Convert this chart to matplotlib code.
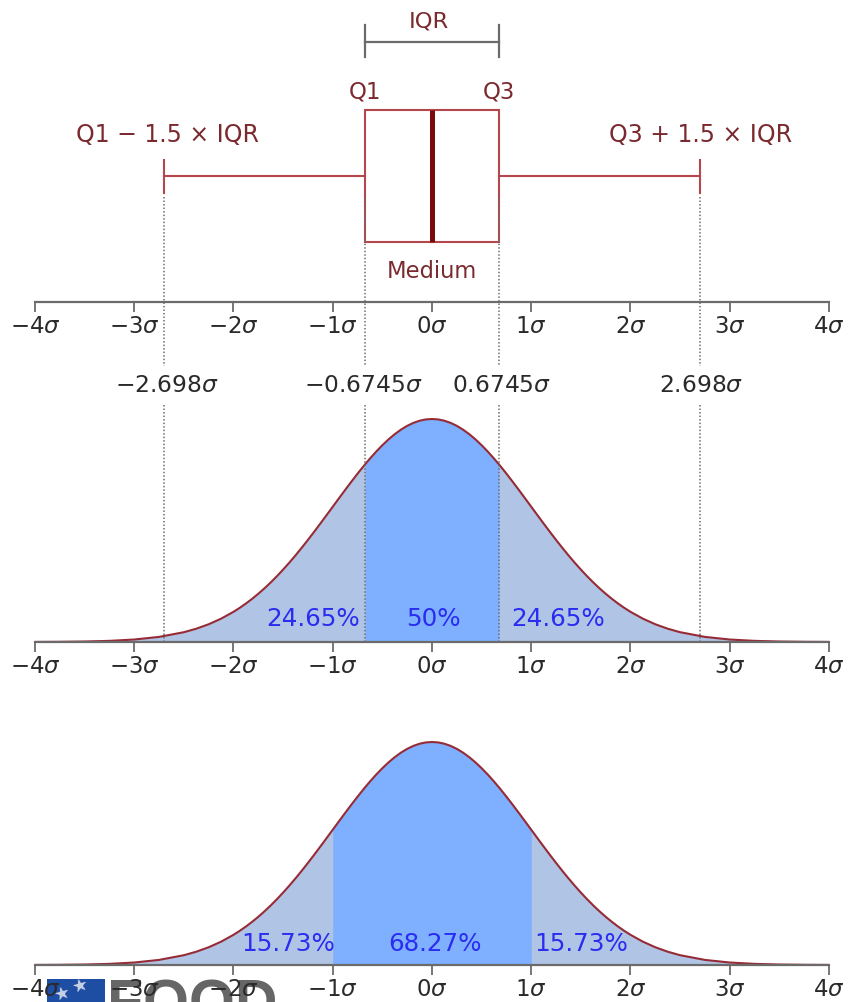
import matplotlib
matplotlib.use("Agg")
import matplotlib.pyplot as plt
from matplotlib.patches import Rectangle

W, H = 850, 1002
plt.rcParams['font.family'] = ['DejaVu Sans']
plt.rcParams['mathtext.fontset'] = 'dejavusans'

# Values
sigma_ticks = [-4, -3, -2, -1, 0, 1, 2, 3, 4]
tick_labels = ['\u22124$\\sigma$', '\u22123$\\sigma$', '\u22122$\\sigma$', '\u22121$\\sigma$', '0$\\sigma$',
               '1$\\sigma$', '2$\\sigma$', '3$\\sigma$', '4$\\sigma$']
q1, median, q3 = -0.6745, 0.0, 0.6745
low_whisker, high_whisker = -2.698, 2.698
curve_x = [-4, -3.75, -3.5, -3.25, -3, -2.75, -2.5, -2.375, -2.25, -2.125, -2,
           -1.9375, -1.875, -1.8125, -1.75, -1.6875, -1.625, -1.5625, -1.5, -1.4375, -1.375, -1.3125,
           -1.25, -1.1875, -1.125, -1.0625, -1, -0.9375, -0.875, -0.8125, -0.75, -0.6875, -0.6745, -0.625,
           -0.5625, -0.5, -0.4375, -0.375, -0.3125, -0.25, -0.1875, -0.125, -0.0625, 0,
           0.0625, 0.125, 0.1875, 0.25, 0.3125, 0.375, 0.4375, 0.5, 0.5625,
           0.625, 0.6745, 0.6875, 0.75, 0.8125, 0.875, 0.9375, 1, 1.0625, 1.125, 1.1875, 1.25,
           1.3125, 1.375, 1.4375, 1.5, 1.5625, 1.625, 1.6875, 1.75, 1.8125, 1.875, 1.9375,
           2, 2.125, 2.25, 2.375, 2.5, 2.75, 3, 3.25, 3.5, 3.75, 4]
curve_y = [0.00013, 0.00035, 0.00087, 0.00203, 0.00443, 0.00909, 0.01753, 0.02377, 0.03174, 0.04173, 0.05399,
           0.06105, 0.06879, 0.07718, 0.08628, 0.09606, 0.10654, 0.11769, 0.12952, 0.14197, 0.15501, 0.16859,
           0.18265, 0.19711, 0.21188, 0.22687, 0.24197, 0.25707, 0.27205, 0.28678, 0.30114, 0.31497, 0.31778, 0.32816,
           0.34057, 0.35207, 0.36253, 0.37185, 0.37993, 0.38667, 0.39199, 0.39584, 0.39816, 0.39894,
           0.39816, 0.39584, 0.39199, 0.38667, 0.37993, 0.37185, 0.36253, 0.35207, 0.34057,
           0.32816, 0.31778, 0.31497, 0.30114, 0.28678, 0.27205, 0.25707, 0.24197, 0.22687, 0.21188, 0.19711, 0.18265,
           0.16859, 0.15501, 0.14197, 0.12952, 0.11769, 0.10654, 0.09606, 0.08628, 0.07718, 0.06879, 0.06105,
           0.05399, 0.04173, 0.03174, 0.02377, 0.01753, 0.00909, 0.00443, 0.00203, 0.00087, 0.00035, 0.00013]
mid_labels = ['24.65%', '50%', '24.65%']
bot_labels = ['15.73%', '68.27%', '15.73%']
quantile_labels = ['\u22122.698$\\sigma$', '\u22120.6745$\\sigma$', '0.6745$\\sigma$', '2.698$\\sigma$']

DARK = '#7a2a2e'
LINE = '#b5474c'
CURVE = '#962b36'
LIGHT = '#b0c4e6'
BRIGHT = '#7fb0ff'
BLUE = '#2a2cf0'
GRAY = '#6b6b6b'
DOT = '#6e6e6e'
TEXT = '#2a2a2a'
FS = 16.5

fig = plt.figure(figsize=(W / 100, H / 100), dpi=100)


def add_axes(top, bottom, z=1):
    a = fig.add_axes([35 / W, 1 - bottom / H, 794 / W, (bottom - top) / H], zorder=z)
    a.set_xlim(-4, 4)
    a.patch.set_alpha(0)
    for s in ['top', 'left', 'right']:
        a.spines[s].set_visible(False)
    a.spines['bottom'].set_color(GRAY)
    a.spines['bottom'].set_linewidth(1.6)
    a.set_yticks([])
    a.set_xticks(sigma_ticks)
    a.set_xticklabels(tick_labels, fontsize=FS, color=TEXT)
    a.tick_params(axis='x', direction='out', length=7.5, width=1.3, color=GRAY, pad=1.8)
    return a


# Watermark partly hidden at the bottom edge
fig.add_artist(Rectangle((47 / W, 0), 58 / W, 23 / H, transform=fig.transFigure,
                         facecolor='#1d4ea3', edgecolor='none', zorder=0))
fig.text(62 / W, -3 / H, '\u2605', color='#c9d3e6', fontsize=13, ha='center', va='bottom', rotation=15, zorder=0)
fig.text(80 / W, 5 / H, '\u2605', color='#c9d3e6', fontsize=13, ha='center', va='bottom', rotation=15, zorder=0)
fig.text(107 / W, -19 / H, 'FOOD', color='#666666', fontsize=42.5, fontweight='bold', ha='left', va='baseline',
         zorder=0, family='Liberation Sans')

# Box plot panel (y in pixels from the top of the panel)
ax = add_axes(0, 302)
ax.set_ylim(302, 0)
ax.add_patch(Rectangle((q1, 110), q3 - q1, 132, fill=False, edgecolor=LINE, linewidth=1.5))
ax.plot([median, median], [110, 242], color='#7d0a0a', linewidth=3.6, solid_capstyle='butt')
ax.plot([low_whisker, q1], [176, 176], color=LINE, linewidth=1.5)
ax.plot([q3, high_whisker], [176, 176], color=LINE, linewidth=1.5)
for w in (low_whisker, high_whisker):
    ax.plot([w, w], [160, 193], color=LINE, linewidth=1.5)
ax.plot([q1, q3], [42, 42], color=GRAY, linewidth=1.6)
for w in (q1, q3):
    ax.plot([w, w], [25, 57], color=GRAY, linewidth=1.6)
ax.text((q1 + q3) / 2 - 0.03, 22, 'IQR', color=DARK, fontsize=16.2, ha='center', va='center')
ax.text(q1, 92, 'Q1', color=DARK, fontsize=16.5, ha='center', va='center')
ax.text(q3, 92, 'Q3', color=DARK, fontsize=16.5, ha='center', va='center')
ax.text(-2.67, 135, 'Q1 \u2212 1.5 \u00d7 IQR', color=DARK, fontsize=17, ha='center', va='center')
ax.text(2.71, 135, 'Q3 + 1.5 \u00d7 IQR', color=DARK, fontsize=17, ha='center', va='center')
ax.text(median, 271, 'Medium', color=DARK, fontsize=16.3, ha='center', va='center')


def density_panel(top, bottom, edge, labels, label_x, label_px):
    a = add_axes(top, bottom)
    a.set_ylim(0, curve_y[43] * (bottom - top) / 223)
    a.fill_between(curve_x, 0, curve_y, color=LIGHT, linewidth=0)
    a.fill_between(curve_x, 0, curve_y, where=[-edge <= v <= edge for v in curve_x], color=BRIGHT, linewidth=0)
    a.plot(curve_x, curve_y, color=CURVE, linewidth=1.5)
    for s, x in zip(labels, label_x):
        a.text(x, label_px, s, color=BLUE, fontsize=17.7, ha='center', va='center',
               transform=a.get_xaxis_transform())
    return a


density_panel(405, 642, q3, mid_labels, [-1.2, 0.01, 1.27], 0.095)
density_panel(727, 965, 1.0, bot_labels, [-1.45, 0.03, 1.5], 0.09)

# Overlay for dotted guide lines and quantile labels (y in pixels from the figure top)
ov = fig.add_axes([35 / W, 0, 794 / W, 1], zorder=3)
ov.set_xlim(-4, 4)
ov.set_ylim(H, 0)
ov.axis('off')
DOTTED = (0, (1, 1.3))
for x in (low_whisker, high_whisker):
    ov.plot([x, x], [197, 366], color=DOT, linewidth=1.1, linestyle=DOTTED)
    ov.plot([x, x], [405, 642], color=DOT, linewidth=1.1, linestyle=DOTTED)
for x in (q1, q3):
    ov.plot([x, x], [198, 366], color=DOT, linewidth=1.1, linestyle=DOTTED)
    ov.plot([x, x], [405, 642], color=DOT, linewidth=1.1, linestyle=DOTTED)
for s, xc in zip(quantile_labels, (-2.675, -0.69, 0.70, 2.71)):
    ov.text(xc, 385, s, color=TEXT, fontsize=16.8, ha='center', va='center')

fig.savefig('out.png', dpi=100)
